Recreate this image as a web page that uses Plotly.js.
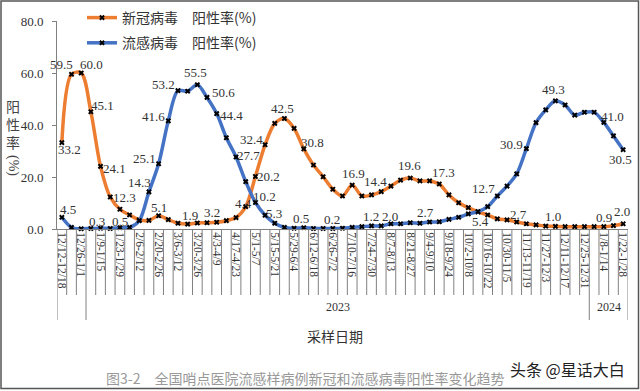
<!DOCTYPE html>
<html>
<head>
<meta charset="utf-8">
<script src="https://cdn.plot.ly/plotly-3.0.1.min.js"></script>
<style>html,body{margin:0;padding:0;background:#fff;}#chart{width:640px;height:391px;}</style>
</head>
<body>
<div id="chart"></div>
<script>
// ---- data ----
const weeks = ['12/12-12/18','12/19-12/25','12/26-1/1','1/2-1/8','1/9-1/15','1/16-1/22','1/23-1/29','1/30-2/5',
  '2/6-2/12','2/13-2/19','2/20-2/26','2/27-3/5','3/6-3/12','3/13-3/19','3/20-3/26','3/27-4/2','4/3-4/9','4/10-4/16',
  '4/17-4/23','4/24-4/30','5/1-5/7','5/8-5/14','5/15-5/21','5/22-5/28','5/29-6/4','6/5-6/11','6/12-6/18','6/19-6/25',
  '6/26-7/2','7/3-7/9','7/10-7/16','7/17-7/23','7/24-7/30','7/31-8/6','8/7-8/13','8/14-8/20','8/21-8/27','8/28-9/3',
  '9/4-9/10','9/11-9/17','9/18-9/24','9/25-10/1','10/2-10/8','10/9-10/15','10/16-10/22','10/23-10/29','10/30-11/5',
  '11/6-11/12','11/13-11/19','11/20-11/26','11/27-12/3','12/4-12/10','12/11-12/17','12/18-12/24','12/25-12/31',
  '1/1-1/7','1/8-1/14','1/15-1/21','1/22-1/28'];
const tickLabels = ['12/12-12/18','12/26-1/1','1/9-1/15','1/23-1/29','2/6-2/12','2/20-2/26','3/6-3/12','3/20-3/26',
  '4/3-4/9','4/17-4/23','5/1-5/7','5/15-5/21','5/29-6/4','6/12-6/18','6/26-7/2','7/10-7/16','7/24-7/30','8/7-8/13',
  '8/21-8/27','9/4-9/10','9/18-9/24','10/2-10/8','10/16-10/22','10/30-11/5','11/13-11/19','11/27-12/3','12/11-12/17',
  '12/25-12/31','1/8-1/14','1/22-1/28'];
const covid = [33.2,59.5,60.0,45.1,24.1,12.3,7.6,5.4,3.5,3.3,
  5.1,3.6,2.2,1.9,2.3,2.4,2.6,3.2,4.4,8.6,
  20.2,32.4,40.6,42.5,38.7,30.8,24.6,20.1,15.3,12.7,
  16.9,12.7,13.1,14.4,16.5,18.8,19.6,18.5,18.5,17.3,
  13.1,10.1,8.2,6.6,5.4,3.9,3.5,2.7,2.0,1.6,
  1.1,1.0,0.9,0.9,0.9,0.9,0.9,1.3,2.0];
const flu = [4.5,0.6,0.1,0.2,0.3,0.2,0.5,0.6,3.2,14.3,
  25.1,41.6,53.2,53.0,55.5,50.6,44.4,35.1,27.7,18.2,
  10.2,5.3,2.2,0.6,0.3,0.5,0.2,0.2,0.2,0.3,
  0.6,0.9,1.2,1.2,2.0,2.0,2.4,2.2,2.7,2.8,
  3.7,4.5,5.8,6.7,8.6,12.7,16.5,21.2,30.9,40.9,
  45.8,49.3,47.7,43.8,44.9,44.9,41.0,35.8,30.5];
const covidLabelIdx = [0,1,2,3,4,5,10,13,17,18,20,21,23,25,30,33,36,39,44,47,51,56,58];
const fluLabelIdx = [0,4,6,9,10,11,12,14,15,16,18,20,21,25,28,32,34,38,45,48,51,56,58];
const years = ['2023','2024'];
const yearSpans = [[2.5,54.5],[54.5,58.5]];
const yearBounds = [-0.5,2.5,54.5,58.5];

// ---- label offsets in screen px (style): [dx, dy], dy positive = down ----
const covidLabelOff = [[8,7],[-10,-10],[10,-9],[12,-6],[14,2],[14,0],[0,-8],[2,-9],[-14,-8],[7,-14],[13,0],[-14,-5],
  [-2,-10],[9,-6],[1,-12],[-6,-10],[-1,-13],[4,-12],[-7,7],[2,-7],[-2,-10],[0,-9],[-1,-12]];
const fluLabelOff = [[6,-8],[-4,-7],[0,-6],[-9,-9],[-14,-5],[-15,-4],[-14,-6],[-2,-12],[16,-5],[15,2],[12,-1],[9,-6],
  [9,-2],[-3,-9],[-1,-9],[-1,-9],[-1,-7],[-4,-9],[-14,-7],[-15,-4],[-2,-11],[9,-6],[-3,10]];

const W=640, H=391, M={l:57, r:12, t:21, b:162, autoexpand: false};
const pX = px => (px - M.l) / (W - M.l - M.r);
const pY = py => (H - M.b - py) / (H - M.t - M.b);

const serif = 'Liberation Serif, Times New Roman, serif';
const cjk = 'Noto Sans CJK SC, sans-serif';

const traces = [
  {x: weeks, y: covid, name: '新冠病毒\u3000阳性率(%)', type: 'scatter', mode: 'lines+markers',
   line: {color: '#ED7D31', width: 3.5, shape: 'spline', smoothing: 0.9},
   marker: {symbol: 'x', size: 5, color: '#000'}, cliponaxis: false, legendgroup: 'a'},
  {x: weeks, y: flu, name: '流感病毒\u3000阳性率(%)', type: 'scatter', mode: 'lines+markers',
   line: {color: '#4472C4', width: 3.5, shape: 'spline', smoothing: 0.9},
   marker: {symbol: 'x', size: 5, color: '#000'}, cliponaxis: false, legendgroup: 'b'}
];

const shapes = [];
for (let k = 0; k <= weeks.length; k++) {
  const xv = k - 0.5;
  const isYear = yearBounds.indexOf(xv) >= 0;
  shapes.push({type: 'line', xref: 'x', yref: 'paper', x0: xv, x1: xv, y0: 0, y1: pY(isYear ? 320 : 295),
    line: {color: '#808080', width: 1}});
}
shapes.push({type: 'rect', xref: 'paper', yref: 'paper', x0: pX(1), x1: pX(638.5), y0: pY(1), y1: pY(388.5),
  line: {color: '#555', width: 1.5}});

const annotations = [];
function addLabels(vals, idx, off) {
  idx.forEach((i, k) => annotations.push({text: vals[i].toFixed(1), xref: 'x', yref: 'y', x: weeks[i], y: vals[i],
    xshift: off[k][0], yshift: -off[k][1], xanchor: 'center', yanchor: 'middle', showarrow: false,
    font: {family: serif, size: 13, color: '#333'}}));
}
addLabels(covid, covidLabelIdx, covidLabelOff);
addLabels(flu, fluLabelIdx, fluLabelOff);

function addText(t, px, py, font, extra) {
  annotations.push(Object.assign({text: t, xref: 'paper', yref: 'paper', x: pX(px), y: pY(py), xanchor: 'center',
    yanchor: 'middle', showarrow: false, font: font}, extra || {}));
}
years.forEach((yr, i) => {
  annotations.push({text: yr, xref: 'x', yref: 'paper', x: (yearSpans[i][0] + yearSpans[i][1]) / 2, y: pY(307),
    xanchor: 'center', yanchor: 'middle', showarrow: false, font: {family: serif, size: 12, color: '#333'}});
});
addText('采样日期', 335, 336, {family: cjk, size: 14, color: '#333'});
addText('阳<br>性<br>率', 13, 124, {family: cjk, size: 14, color: '#444'});
addText('(%)', 13, 165, {family: serif, size: 14, color: '#444'}, {textangle: 90});
addText('图3-2\u3000全国哨点医院流感样病例新冠和流感病毒阳性率变化趋势', 305, 378, {family: cjk, size: 14, color: '#999'});
addText('头条 @星话大白', 567, 369, {family: cjk, size: 16, color: '#222'});

const layout = {
  width: W, height: H, margin: M, paper_bgcolor: '#fff', plot_bgcolor: '#fff', showlegend: true,
  xaxis: {type: 'category', range: [-0.5, weeks.length - 0.5], tickmode: 'array', tickvals: tickLabels, ticktext: tickLabels,
    tickangle: 90, tickfont: {family: serif, size: 11.5, color: '#333'}, showline: true, linecolor: '#808080',
    linewidth: 1, ticks: '', showgrid: false, zeroline: false, fixedrange: true, automargin: false},
  yaxis: {range: [0, 80], tickvals: [0,20,40,60,80], tickformat: '.1f', ticks: 'outside', ticklen: 4,
    tickcolor: '#808080', showline: true, linecolor: '#808080', linewidth: 1, showgrid: false, zeroline: false,
    ticklabelstandoff: 6, tickfont: {family: serif, size: 13, color: '#333'}, fixedrange: true, automargin: false},
  legend: {x: pX(82), y: pY(2), xanchor: 'left', yanchor: 'top', bgcolor: 'rgba(0,0,0,0)', tracegroupgap: 4,
    font: {family: cjk, size: 14, color: '#333'}},
  shapes: shapes, annotations: annotations
};
Plotly.newPlot('chart', traces, layout, {displayModeBar: false, staticPlot: true});
</script>
</body>
</html>
